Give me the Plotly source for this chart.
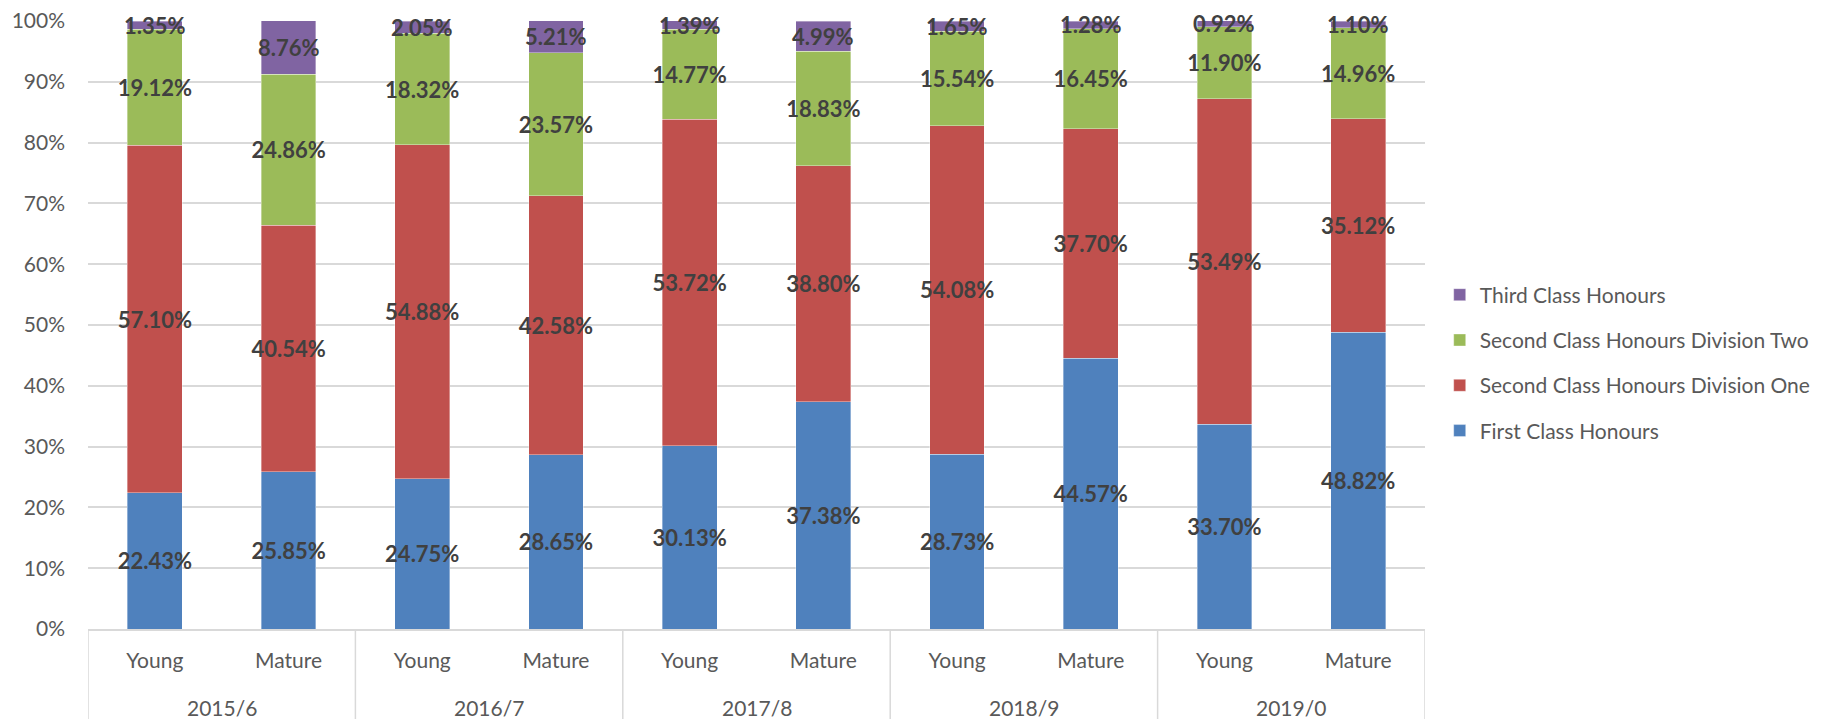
import plotly.graph_objects as go

years = ["2015/6", "2016/7", "2017/8", "2018/9", "2019/0"]
groups = ["Young", "Mature"]
categories = [f"{y} {g}" for y in years for g in groups]
cat_labels = [g for y in years for g in groups]

first_class = [22.43, 25.85, 24.75, 28.65, 30.13, 37.38, 28.73, 44.57, 33.70, 48.82]
second_div_one = [57.10, 40.54, 54.88, 42.58, 53.72, 38.80, 54.08, 37.70, 53.49, 35.12]
second_div_two = [19.12, 24.86, 18.32, 23.57, 14.77, 18.83, 15.54, 16.45, 11.90, 14.96]
third_class = [1.35, 8.76, 2.05, 5.21, 1.39, 4.99, 1.65, 1.28, 0.92, 1.10]

y_ticks = list(range(0, 101, 10))
y_ticktext = [f"{v}%" for v in y_ticks]

series = [
    ("First Class Honours", first_class, "#4F81BD"),
    ("Second Class Honours Division One", second_div_one, "#C0504D"),
    ("Second Class Honours Division Two", second_div_two, "#9BBB59"),
    ("Third Class Honours", third_class, "#8064A2"),
]

FONT = "Lato"
GRID = "#d9d9d9"
TXT = "#595959"
LABEL_FONT = dict(family=FONT, size=22, color="#404040", weight="bold")

fig = go.Figure()
n_series = len(series)
for i, (name, vals, color) in enumerate(series):
    is_top = i == n_series - 1
    fig.add_trace(go.Bar(
        name=name,
        x=categories,
        y=vals,
        marker=dict(color=color, line=dict(color="rgba(255,255,255,0.6)", width=0.6)),
        texttemplate="" if is_top else "%{y:.2f}%",
        textposition="inside",
        insidetextanchor="middle",
        textangle=0,
        constraintext="none",
        textfont=LABEL_FONT,
        legendgroup=f"g{i}",
        legendrank=100 - i,
        hoverinfo="name+y",
    ))

# plot area in figure coords (page has an 8px body offset)
H_PLOT = 608
BOTTOM_EXT = 90 / H_PLOT

shapes = []
for k in range(len(years) + 1):
    shapes.append(dict(
        type="line", xref="x", yref="paper",
        x0=2 * k - 0.5, x1=2 * k - 0.5, y0=0, y1=-BOTTOM_EXT,
        line=dict(color=GRID, width=1.5),
    ))

annotations = []
for k, yr in enumerate(years):
    annotations.append(dict(
        x=2 * k + 0.5, y=-78 / H_PLOT, xref="x", yref="paper",
        text=yr, showarrow=False, xanchor="center", yanchor="middle",
        font=dict(family=FONT, size=21, color=TXT),
    ))

# labels of the top segment (kept unclipped so they can overflow the plot top)
for j, cat in enumerate(categories):
    below = first_class[j] + second_div_one[j] + second_div_two[j]
    annotations.append(dict(
        x=cat, y=below + third_class[j] / 2, xref="x", yref="y",
        text=f"{third_class[j]:.2f}%", showarrow=False,
        xanchor="center", yanchor="middle",
        font=LABEL_FONT,
    ))

fig.update_layout(
    barmode="stack",
    bargap=0.59,
    width=1822,
    height=711,
    margin=dict(l=80, r=405, t=13, b=90, autoexpand=False),
    plot_bgcolor="white",
    paper_bgcolor="white",
    font=dict(family=FONT, size=21, color=TXT),
    legend=dict(
        x=1.011, xanchor="left",
        y=0.583, yanchor="top",
        tracegroupgap=15,
        font=dict(family=FONT, size=21, color=TXT),
        bgcolor="rgba(0,0,0,0)",
    ),
    shapes=shapes,
    annotations=annotations,
)

fig.update_yaxes(
    range=[0, 100],
    tickvals=y_ticks,
    ticktext=y_ticktext,
    showgrid=True,
    gridcolor=GRID,
    gridwidth=1.5,
    zeroline=False,
    showline=False,
    ticks="",
    ticklabelstandoff=22,
    ticklabeloverflow="allow",
    tickfont=dict(family=FONT, size=21, color=TXT),
)
fig.update_xaxes(
    type="category",
    tickvals=categories,
    ticktext=cat_labels,
    range=[-0.5, len(categories) - 0.5],
    showline=True,
    linecolor=GRID,
    linewidth=1.5,
    ticks="",
    ticklabelstandoff=12,
    ticklabeloverflow="allow",
    tickfont=dict(family=FONT, size=21, color=TXT),
)

fig.write_html("out.html")
